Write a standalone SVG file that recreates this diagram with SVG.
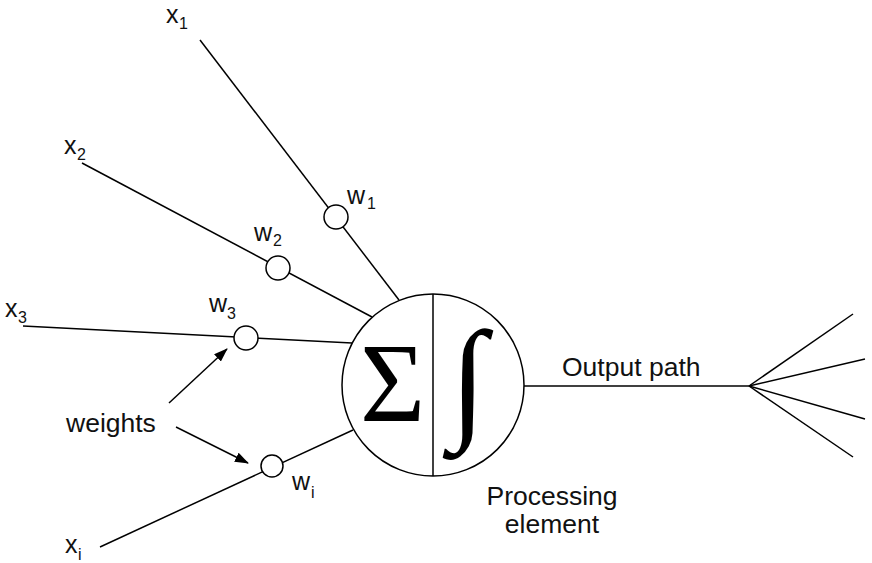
<svg xmlns="http://www.w3.org/2000/svg" width="872" height="563" viewBox="0 0 872 563">
<defs>
<marker id="ah" markerWidth="14" markerHeight="10" refX="13" refY="5" orient="auto" markerUnits="userSpaceOnUse">
<path d="M0,0 L14,5 L0,10 Z" fill="#000"/>
</marker>
</defs>
<style>
.ln{stroke:#000;stroke-width:1.5;fill:none}
.wc{stroke:#000;stroke-width:1.5;fill:#fff}
.lb{font-family:"Liberation Sans",Arial,sans-serif;font-size:26.5px;fill:#111}
.v{font-family:"Liberation Sans",Arial,sans-serif;font-size:25px;fill:#111}
.s{font-family:"Liberation Sans",Arial,sans-serif;font-size:16px;fill:#111}
.sym{font-family:"Liberation Serif","Times New Roman",serif;fill:#000}
</style>
<rect width="872" height="563" fill="#fff"/>
<g id="connectors">
<line class="ln" x1="200" y1="40" x2="399" y2="300"/>
<line class="ln" x1="82" y1="163" x2="372" y2="317"/>
<line class="ln" x1="23" y1="326" x2="352" y2="343"/>
<line class="ln" x1="100" y1="547" x2="353" y2="430"/>
<line class="ln" x1="524" y1="386" x2="749" y2="386"/>
<line class="ln" x1="749" y1="386" x2="853" y2="314"/>
<line class="ln" x1="749" y1="386" x2="865" y2="359"/>
<line class="ln" x1="749" y1="386" x2="865" y2="419"/>
<line class="ln" x1="749" y1="386" x2="853" y2="457"/>
<line class="ln" x1="169" y1="403" x2="227" y2="349" marker-end="url(#ah)"/>
<line class="ln" x1="176" y1="427" x2="248" y2="463" marker-end="url(#ah)"/>
</g>
<g id="w1"><circle class="wc" cx="336" cy="217" r="12"/><text class="v" x="347" y="204">w</text><text class="s" x="367" y="209">1</text></g>
<g id="w2"><circle class="wc" cx="278" cy="268" r="12"/><text class="v" x="254" y="241">w</text><text class="s" x="273" y="246">2</text></g>
<g id="w3"><circle class="wc" cx="246" cy="338" r="12"/><text class="v" x="209" y="312">w</text><text class="s" x="227" y="319">3</text></g>
<g id="wi"><circle class="wc" cx="272" cy="466" r="11"/><text class="v" x="292" y="490">w</text><text class="s" x="311" y="498">i</text></g>
<g id="x1"><text class="v" x="166" y="23">x</text><text class="s" x="179" y="29">1</text></g>
<g id="x2"><text class="v" x="64" y="154">x</text><text class="s" x="77" y="160">2</text></g>
<g id="x3"><text class="v" x="5" y="317">x</text><text class="s" x="18" y="323">3</text></g>
<g id="xi"><text class="v" x="65" y="553">x</text><text class="s" x="78" y="560">i</text></g>
<g id="pe">
<circle class="ln" cx="433" cy="385" r="91" fill="#fff"/>
<line class="ln" x1="433" y1="294" x2="433" y2="476"/>
<text class="sym" x="392.5" y="421" font-size="112" text-anchor="middle">Σ</text>
<text class="sym" x="468" y="424" font-size="134" font-weight="bold" text-anchor="middle">∫</text>
</g>
<g id="labels">
<text class="lb" x="66" y="432">weights</text>
<text class="lb" x="562" y="376">Output path</text>
<text class="lb" x="552" y="505" text-anchor="middle">Processing</text>
<text class="lb" x="552" y="533" text-anchor="middle">element</text>
</g>
</svg>
